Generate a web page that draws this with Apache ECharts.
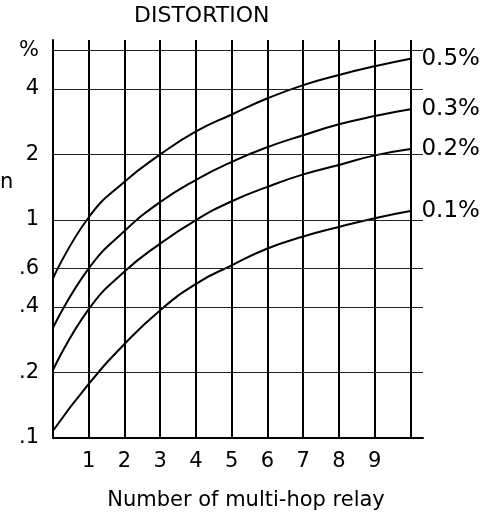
<!DOCTYPE html>
<html>
<head>
<meta charset="utf-8">
<style>
  html, body { margin: 0; padding: 0; background: #fff; }
  #chart { width: 493px; height: 525px; }
</style>
<script src="https://cdn.jsdelivr.net/npm/echarts@6/dist/echarts.min.js"></script>
</head>
<body>
<div id="chart"></div>
<script>
// ---- data ----
var relays = [0, 1, 2, 3, 4, 5, 6, 7, 8, 9, 10];
var dist05 = [0.54, 1.03, 1.50, 2.00, 2.55, 3.05, 3.62, 4.16, 4.63, 5.08, 5.50];
var dist03 = [0.32, 0.60, 0.89, 1.21, 1.53, 1.85, 2.16, 2.45, 2.75, 3.00, 3.22];
var dist02 = [0.205, 0.39, 0.58, 0.78, 1.00, 1.22, 1.42, 1.62, 1.79, 1.98, 2.12];
var dist01 = [0.108, 0.177, 0.27, 0.386, 0.51, 0.62, 0.74, 0.84, 0.93, 1.02, 1.10];
var seriesNames = ['0.5%', '0.3%', '0.2%', '0.1%'];
var xTickLabels = [1, 2, 3, 4, 5, 6, 7, 8, 9];
var xGridValues = [0, 1, 2, 3, 4, 5, 6, 7, 8, 9, 10];
var yTickValues = [0.1, 0.2, 0.4, 0.6, 1, 2, 4, 6];
var yTickLabels = ['.1', '.2', '.4', '.6', '1', '2', '4', '%'];

var FONT = 'DejaVu Sans';

function pairs(vals) {
  return relays.map(function (r, i) { return [r, vals[i]]; });
}

var gridMarks = [];
xGridValues.forEach(function (v) {
  gridMarks.push({ xAxis: v, lineStyle: { color: '#000', width: 2, type: 'solid' } });
});
yTickValues.forEach(function (v) {
  if (v !== 0.1) gridMarks.push({ yAxis: v, lineStyle: { color: '#222', width: 1.2, type: 'solid' } });
});

var allData = [dist05, dist03, dist02, dist01];
var series = allData.map(function (vals, i) {
  var s = {
    name: seriesNames[i],
    type: 'line',
    data: pairs(vals),
    smooth: 0.5,
    showSymbol: false,
    symbol: 'none',
    silent: true,
    lineStyle: { color: '#000', width: 2 },
    endLabel: {
      show: true,
      formatter: '{a}',
      color: '#000',
      fontFamily: FONT,
      fontSize: 23,
      distance: 11
    },
    z: 3
  };
  if (i === 0) {
    s.markLine = {
      silent: true,
      symbol: ['none', 'none'],
      label: { show: false },
      animation: false,
      emphasis: { disabled: true },
      data: gridMarks
    };
  }
  return s;
});

var chart = echarts.init(document.getElementById('chart'), null, { renderer: 'canvas' });
chart.setOption({
  animation: false,
  backgroundColor: '#fff',
  grid: { left: 53, right: 70, top: 40, bottom: 87, containLabel: false },
  xAxis: {
    type: 'value',
    min: 0,
    max: 10.35,
    name: 'Number of multi-hop relay',
    nameLocation: 'middle',
    nameGap: 52,
    nameTextStyle: { color: '#000', fontFamily: FONT, fontSize: 21, padding: [0, 0, 0, 16] },
    axisLine: { show: true, lineStyle: { color: '#000', width: 2 } },
    axisTick: { show: false },
    splitLine: { show: false },
    axisLabel: {
      customValues: xTickLabels,
      color: '#000',
      fontFamily: FONT,
      fontSize: 21,
      margin: 13
    }
  },
  yAxis: {
    type: 'log',
    logBase: 10,
    min: 0.1,
    max: 6.7,
    axisLine: { show: true, lineStyle: { color: '#000', width: 2 } },
    axisTick: { show: false },
    splitLine: { show: false },
    axisLabel: {
      customValues: yTickValues,
      color: '#000',
      fontFamily: FONT,
      fontSize: 21,
      margin: 14,
      formatter: function (v) {
        for (var i = 0; i < yTickValues.length; i++) {
          if (Math.abs(yTickValues[i] - v) < 1e-9) return yTickLabels[i];
        }
        return '';
      }
    }
  },
  graphic: [
    {
      type: 'text', left: 134, top: 5,
      style: { text: 'DISTORTION', fill: '#000', font: '22px "DejaVu Sans"' }
    },
    {
      type: 'text', left: 0, top: 172,
      style: { text: 'n', fill: '#000', font: '21px "DejaVu Sans"' }
    }
  ],
  series: series
});
</script>
</body>
</html>
